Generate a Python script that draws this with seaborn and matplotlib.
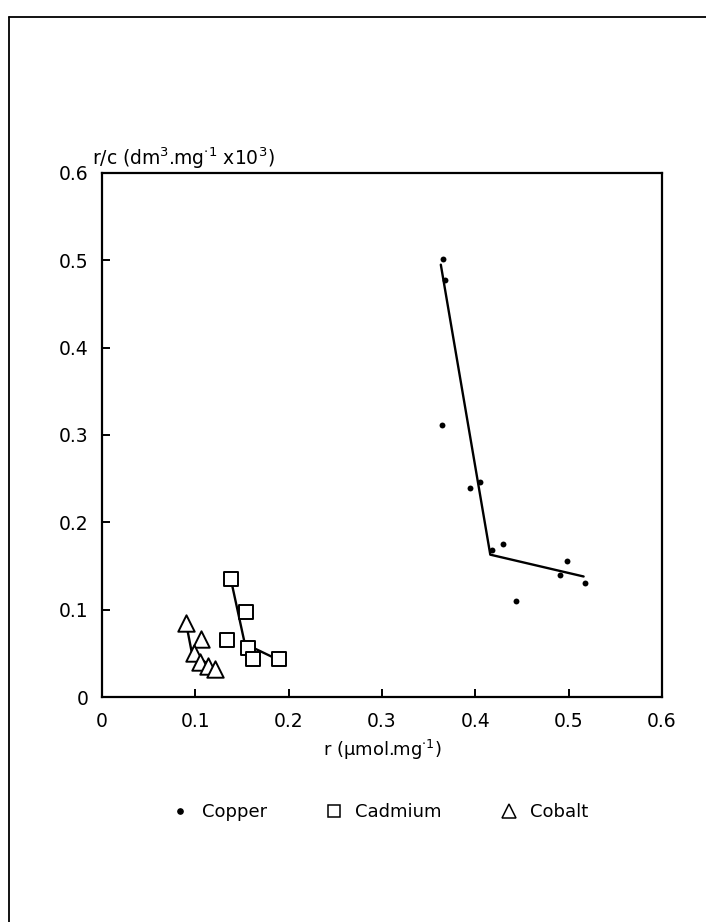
import numpy as np
import pandas as pd
import matplotlib
matplotlib.use('Agg')
import matplotlib.pyplot as plt
from matplotlib.lines import Line2D
import seaborn as sns

# Scatchard-type data
copper_r = [0.365, 0.368, 0.364, 0.394, 0.405, 0.418, 0.430, 0.444, 0.491, 0.498, 0.517]
copper_rc = [0.502, 0.477, 0.311, 0.239, 0.246, 0.168, 0.175, 0.110, 0.140, 0.156, 0.130]
copper_fit_r = [0.363, 0.416, 0.516]
copper_fit_rc = [0.495, 0.163, 0.138]

cadmium_r = [0.138, 0.154, 0.134, 0.156, 0.162, 0.190]
cadmium_rc = [0.135, 0.097, 0.065, 0.056, 0.044, 0.043]
cadmium_fit_r = [0.138, 0.153, 0.190]
cadmium_fit_rc = [0.135, 0.061, 0.042]

cobalt_r = [0.090, 0.106, 0.099, 0.105, 0.114, 0.121]
cobalt_rc = [0.085, 0.067, 0.050, 0.040, 0.035, 0.032]
cobalt_fit_r = [0.090, 0.096, 0.126]
cobalt_fit_rc = [0.085, 0.052, 0.027]

tick_vals = [0, 0.1, 0.2, 0.3, 0.4, 0.5, 0.6]
tick_labels = ['0', '0.1', '0.2', '0.3', '0.4', '0.5', '0.6']

sns.set_style('ticks')
plt.rcParams['font.family'] = ['DejaVu Sans']
plt.rcParams['mathtext.default'] = 'regular'
plt.rcParams['text.color'] = 'black'

fs = 13.5
fig = plt.figure(figsize=(7.06, 9.22), dpi=100)
ax = fig.add_axes([0.1445, 0.244, 0.7932, 0.5684])

lw = 1.7
for fx, fy in [(copper_fit_r, copper_fit_rc), (cadmium_fit_r, cadmium_fit_rc),
               (cobalt_fit_r, cobalt_fit_rc)]:
    sns.lineplot(x=fx, y=fy, ax=ax, color='black', lw=lw, sort=False, zorder=2)

sns.scatterplot(x=copper_r, y=copper_rc, ax=ax, marker='o', s=18, color='black',
                edgecolor='black', linewidth=0, zorder=3)
sns.scatterplot(x=cadmium_r, y=cadmium_rc, ax=ax, marker='s', s=115, color='white',
                edgecolor='black', linewidth=1.4, zorder=3)
sns.scatterplot(x=cobalt_r, y=cobalt_rc, ax=ax, marker='^', s=140, color='white',
                edgecolor='black', linewidth=1.4, zorder=3)

ax.set_xlim(0, 0.6)
ax.set_ylim(0, 0.6)
ax.set_xticks(tick_vals)
ax.set_xticklabels(tick_labels)
ax.set_yticks(tick_vals)
ax.set_yticklabels(tick_labels)
ax.tick_params(axis='both', direction='in', length=6, width=1.4, labelsize=fs,
               colors='black')
ax.tick_params(axis='y', pad=10)
ax.tick_params(axis='x', pad=11)
for sp in ax.spines.values():
    sp.set_visible(True)
    sp.set_linewidth(1.6)
    sp.set_color('black')
ax.set_xlabel('')
ax.set_ylabel('')

fig.text(382 / 706, 1 - 750 / 922, 'r (µmol.mg$^{\\cdot1}$)', ha='center', va='center',
         fontsize=13)
fig.text(92 / 706, 1 - 158 / 922, 'r/c (dm$^3$.mg$^{\\cdot1}$ x10$^3$)', ha='left',
         va='center', fontsize=fs)

handles = [
    Line2D([], [], marker='o', ls='none', color='black', markersize=3.8),
    Line2D([], [], marker='s', ls='none', mfc='white', mec='black', markersize=9,
           markeredgewidth=1.1),
    Line2D([], [], marker='^', ls='none', mfc='white', mec='black', markersize=9.5,
           markeredgewidth=1.1),
]
fig.legend(handles, ['Copper', 'Cadmium', 'Cobalt'], loc='center',
           bbox_to_anchor=(378 / 706, 1 - 812 / 922), ncol=3, frameon=False,
           fontsize=13, columnspacing=3.0, handletextpad=0.5, handlelength=1.4)

# page frame (left and top edges)
fig.add_artist(Line2D([9 / 706, 9 / 706], [0, 1 - 17 / 922], color='black', lw=1.3))
fig.add_artist(Line2D([9 / 706, 1], [1 - 17 / 922, 1 - 17 / 922], color='black', lw=1.3))

fig.savefig('out.png', dpi=100)
